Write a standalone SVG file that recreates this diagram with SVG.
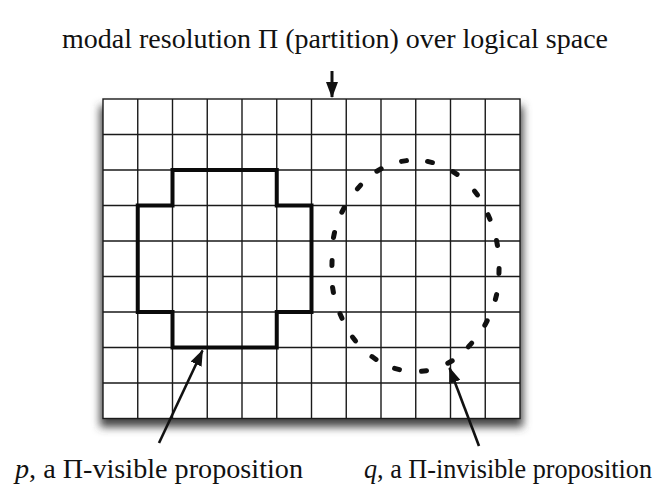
<svg xmlns="http://www.w3.org/2000/svg" width="670" height="491" viewBox="0 0 670 491">
<style>
.lbl{font-family:"Liberation Serif","Times New Roman",serif;fill:#111;font-size:28px;}
.blbl{font-family:"Liberation Serif","Times New Roman",serif;fill:#111;font-size:26.5px;}
.gl{stroke:#1a1a1a;stroke-width:1.4;fill:none;}
.thick{stroke:#0a0a0a;stroke-width:4;fill:none;stroke-linejoin:miter;}
.dot{stroke:#111;stroke-width:5;stroke-linecap:round;}
.conn{stroke:#111;stroke-width:2.6;fill:none;}
</style>
<defs>
<filter id="sh" x="-10%" y="-10%" width="120%" height="130%"><feGaussianBlur stdDeviation="4"/></filter>
<marker id="ah" viewBox="0 0 16 12" markerWidth="16" markerHeight="12" refX="15" refY="6" orient="auto" markerUnits="userSpaceOnUse"><path d="M0,0 L16,6 L0,12 Z" fill="#111"/></marker>
</defs>
<rect width="670" height="491" fill="#fff"/>
<g id="grid">
<rect x="100" y="106" width="423" height="321" fill="#444" filter="url(#sh)"/>
<rect x="103" y="99" width="417" height="319.5" fill="#fff"/>
<path class="gl" d="M137.75,99V418.5M172.5,99V418.5M207.25,99V418.5M242,99V418.5M276.75,99V418.5M311.5,99V418.5M346.25,99V418.5M381,99V418.5M415.75,99V418.5M450.5,99V418.5M485.25,99V418.5M103,134.5H520M103,170H520M103,205.5H520M103,241H520M103,276.5H520M103,312H520M103,347.5H520M103,383H520"/>
<rect class="gl" x="103" y="99" width="417" height="319.5"/>
</g>
<g id="p-region">
<path class="thick" d="M172.5,170H276.75V205.5H311.5V312H276.75V347.5H172.5V312H137.75V205.5H172.5Z"/>
</g>
<g id="q-region">
<line class="dot" x1="401.53" y1="161.39" x2="406.47" y2="160.61"/>
<line class="dot" x1="427.57" y1="161.43" x2="432.43" y2="162.57"/>
<line class="dot" x1="452.93" y1="171.6" x2="457.07" y2="174.4"/>
<line class="dot" x1="474.47" y1="191.02" x2="477.53" y2="194.98"/>
<line class="dot" x1="488.03" y1="214.69" x2="489.97" y2="219.31"/>
<line class="dot" x1="496.54" y1="240.54" x2="497.46" y2="245.46"/>
<line class="dot" x1="499.05" y1="268.5" x2="498.95" y2="273.5"/>
<line class="dot" x1="496.61" y1="294.57" x2="495.39" y2="299.43"/>
<line class="dot" x1="487.19" y1="320.8" x2="484.81" y2="325.2"/>
<line class="dot" x1="471.7" y1="343.16" x2="468.3" y2="346.84"/>
<line class="dot" x1="452.18" y1="360.77" x2="447.82" y2="363.23"/>
<line class="dot" x1="426.48" y1="370.67" x2="421.52" y2="371.33"/>
<line class="dot" x1="399.42" y1="369.63" x2="394.58" y2="368.37"/>
<line class="dot" x1="376.05" y1="359.43" x2="371.95" y2="356.57"/>
<line class="dot" x1="355.55" y1="340.97" x2="352.45" y2="337.03"/>
<line class="dot" x1="341.99" y1="318.3" x2="340.01" y2="313.7"/>
<line class="dot" x1="333.42" y1="292.46" x2="332.58" y2="287.54"/>
<line class="dot" x1="331.95" y1="265.5" x2="332.05" y2="260.5"/>
<line class="dot" x1="333.49" y1="237.45" x2="334.51" y2="232.55"/>
<line class="dot" x1="341.84" y1="212.22" x2="344.16" y2="207.78"/>
<line class="dot" x1="357.33" y1="188.86" x2="360.67" y2="185.14"/>
<line class="dot" x1="376.84" y1="171.25" x2="381.16" y2="168.75"/>
</g>
<g id="connectors">
<line class="conn" x1="332" y1="71" x2="332" y2="97" marker-end="url(#ah)" style="stroke-width:3"/>
<line class="conn" x1="159" y1="443" x2="202.5" y2="350.5" marker-end="url(#ah)"/>
<line class="conn" x1="479" y1="446" x2="449.5" y2="368" marker-end="url(#ah)"/>
</g>
<g id="labels">
<text class="lbl" x="62" y="48" textLength="546" lengthAdjust="spacingAndGlyphs">modal resolution Π (partition) over logical space</text>
<text class="blbl" x="15" y="478" textLength="288" lengthAdjust="spacingAndGlyphs"><tspan font-style="italic">p</tspan>, a Π-visible proposition</text>
<text class="blbl" x="364" y="478" textLength="288" lengthAdjust="spacingAndGlyphs"><tspan font-style="italic">q</tspan>, a Π-invisible proposition</text>
</g>
</svg>
